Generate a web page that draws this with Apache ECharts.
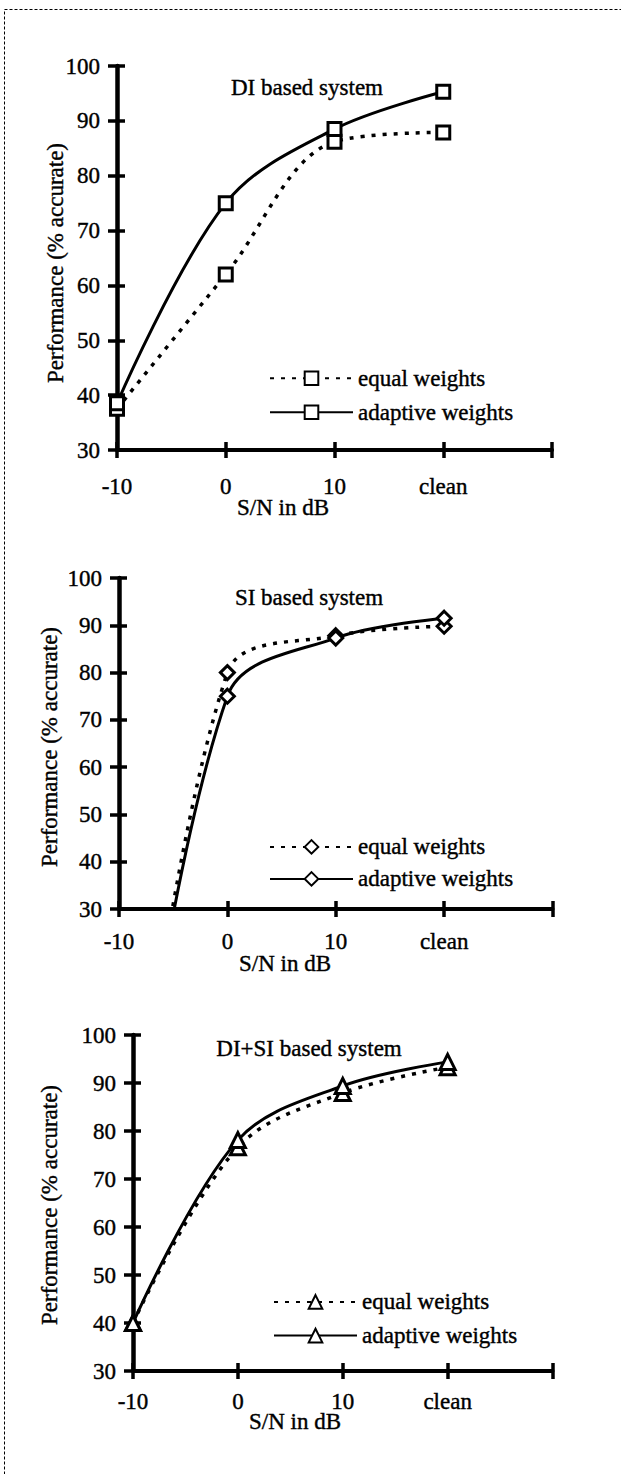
<!DOCTYPE html>
<html><head><meta charset="utf-8">
<script src="https://cdn.jsdelivr.net/npm/echarts@6/dist/echarts.min.js"></script>
<style>html,body{margin:0;padding:0;background:#fff}#c{width:621px;height:1474px}</style>
</head><body><div id="c"></div>
<script>
// ---- data ----
const categories = ['-10', '0', '10', 'clean', ''];
const yMin = 30, yMax = 100, yStep = 10;
const panelTitles = ['DI based system', 'SI based system', 'DI+SI based system'];
const seriesLabels = ['equal weights', 'adaptive weights'];
const xName = 'S/N in dB';
const yName = 'Performance (% accurate)';

const diEqual    = [37.5, 62.0, 86.2, 87.9];
const diAdaptive = [38.5, 75.0, 88.5, 95.3];
const siEqual    = [-50, 80.0, 87.8, 89.8];
const siAdaptive = [-45, 75.0, 87.3, 91.5];
const dsEqual    = [40.0, 76.6, 87.9, 93.3];
const dsAdaptive = [40.0, 78.1, 89.4, 94.4];

// ---- layout ----
const FONT = 'Liberation Serif';
const FS = 23;
const panels = [
  {l:117, r:552, t:66, b:450, eq:diEqual, ad:diAdaptive, sym:'rect', sz:13,
   title:[307,87], xn:[283,507], yn:[55,263], lg:{left:269, c1:378, c2:411.7}, xm:25},
  {l:119, r:552.5, t:578, b:909, eq:siEqual, ad:siAdaptive, sym:'diamond', sz:14,
   title:[309,597], xn:[285,963], yn:[49.5,747], lg:{left:269, c1:846.7, c2:878.3}, xm:21},
  {l:133, r:552.5, t:1035, b:1371, eq:dsEqual, ad:dsAdaptive, sym:'triangle', sz:15,
   title:[309,1048], xn:[295,1421], yn:[49.5,1205], lg:{left:273, c1:1301.7, c2:1335}, xm:19}
];

const grid = [], xAxis = [], yAxis = [], series = [], legend = [], graphic = [];
const labelMap = {};
const tickStyle = {color:'#000', width:3.5};
const txt = {color:'#000', fontFamily:FONT, fontSize:FS, textBorderColor:'#000', textBorderWidth:0.4};

panels.forEach((p, i) => {
  const w = p.r - p.l, h = p.b - p.t;
  grid.push({left:p.l, top:p.t, width:w, height:h, containLabel:false});
  xAxis.push({gridIndex:i, type:'category', data:categories, boundaryGap:false, position:'bottom',
    axisLine:{show:true, lineStyle:{color:'#000', width:4}},
    axisTick:{show:true, length:8, interval:0, lineStyle:tickStyle},
    axisLabel:Object.assign({interval:0, margin:p.xm}, txt),
    splitLine:{show:false}});
  xAxis.push({gridIndex:i, type:'category', data:categories, boundaryGap:false, position:'top', offset:-h,
    axisLine:{show:false}, axisTick:{show:true, length:8, interval:0, lineStyle:tickStyle},
    axisLabel:{show:false}, splitLine:{show:false}});
  yAxis.push({gridIndex:i, type:'value', min:yMin, max:yMax, interval:yStep, position:'left',
    axisLine:{show:true, lineStyle:{color:'#000', width:4.5}},
    axisTick:{show:true, length:9, lineStyle:tickStyle},
    axisLabel:Object.assign({margin:17}, txt),
    splitLine:{show:false}});
  yAxis.push({gridIndex:i, type:'value', min:yMin, max:yMax, interval:yStep, position:'right', offset:-w,
    axisLine:{show:false}, axisTick:{show:true, length:8, lineStyle:tickStyle},
    axisLabel:{show:false}, splitLine:{show:false}});

  const nEq = 'p' + i + 'eq', nAd = 'p' + i + 'ad';
  labelMap[nEq] = seriesLabels[0];
  labelMap[nAd] = seriesLabels[1];
  const common = {type:'line', xAxisIndex:2*i, yAxisIndex:2*i, smooth:0.35, symbol:p.sym, symbolSize:p.sz,
    showAllSymbol:true, clip:true, emphasis:{disabled:true},
    itemStyle:{color:'#fff', borderColor:'#000', borderWidth:3}};
  series.push(Object.assign({}, common, {name:nEq, data:p.eq,
    lineStyle:{color:'#000', width:3.5, type:[4,7]}}));
  series.push(Object.assign({}, common, {name:nAd, data:p.ad,
    lineStyle:{color:'#000', width:3, type:'solid'}}));

  legend.push({orient:'vertical', left:p.lg.left, top:p.lg.c1 - 11.5, itemWidth:83, itemHeight:17,
    itemGap:(p.lg.c2 - p.lg.c1) - 23, selectedMode:false, data:[nEq, nAd],
    formatter:(n) => labelMap[n], padding:0,
    textStyle:Object.assign({lineHeight:23}, txt)});

  const font = FS + 'px "' + FONT + '"';
  const st = {font, fill:'#000', stroke:'#000', lineWidth:0.4, align:'center', verticalAlign:'middle'};
  graphic.push({type:'text', x:p.title[0], y:p.title[1], silent:true,
    style:Object.assign({text:panelTitles[i]}, st)});
  graphic.push({type:'text', x:p.xn[0], y:p.xn[1], silent:true,
    style:Object.assign({text:xName}, st)});
  graphic.push({type:'text', x:p.yn[0], y:p.yn[1], rotation:Math.PI/2, silent:true,
    style:Object.assign({text:yName}, st)});
});

graphic.push({type:'rect', silent:true, shape:{x:4.5, y:9.5, width:700, height:1600},
  style:{fill:'transparent', stroke:'#000', lineWidth:1, lineDash:[3,2]}});

const chart = echarts.init(document.getElementById('c'), null, {renderer:'svg'});
chart.setOption({animation:false, backgroundColor:'#fff', grid, xAxis, yAxis, series, legend, graphic});
</script></body></html>
